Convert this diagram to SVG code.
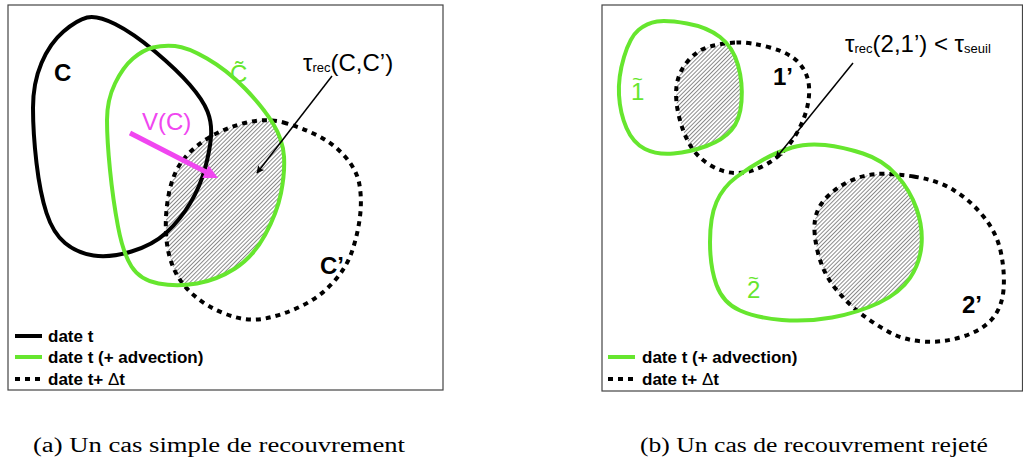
<svg xmlns="http://www.w3.org/2000/svg" width="1023" height="465" viewBox="0 0 1023 465">
<style>
.frame{fill:#fff;stroke:#444;stroke-width:1.2}
.blk{fill:none;stroke:#000;stroke-width:4}
.grn{fill:none;stroke:#66e62e;stroke-width:4}
.dsh{fill:none;stroke:#000;stroke-width:4;stroke-dasharray:5 5}
.hatch{fill:url(#hatch);stroke:none}
.lbl{font-family:"Liberation Sans",Arial,sans-serif;font-size:24px}
.b{font-weight:bold}
.g{fill:#66e62e}
.leg{font-family:"Liberation Sans",Arial,sans-serif;font-size:17px;font-weight:bold}
.cap{font-family:"Liberation Serif","Times New Roman",serif;font-size:20px}
</style>
<defs>
<pattern id="hatch" patternUnits="userSpaceOnUse" width="2.9" height="2.9" patternTransform="rotate(45)">
<rect width="2.9" height="2.9" fill="#fff"/>
<line x1="0.5" y1="0" x2="0.5" y2="2.9" stroke="#5a5a5a" stroke-width="0.7"/>
</pattern>
<path id="gC" d="M175,46 Q187,47 207,58.5 Q227,70 245,88.5 Q263,107 273,123.5 Q283,140 284,156.5 Q285,173 281,193 Q277,213 265,235 Q253,257 235,268.5 Q217,280 197,283.5 Q177,287 158.5,283.5 Q140,280 131.5,266.5 Q123,253 118,226.5 Q113,200 110,170 Q107,140 107,120 Q107,100 115,83.5 Q123,67 133,58.5 Q143,50 153,47.5 Q163,45 175,46 Z"/>
<path id="dC" d="M283.5,122.5 Q300,127 316.5,135 Q333,143 345,156.5 Q357,170 359.5,185 Q362,200 360,216.5 Q358,233 352.5,250 Q347,267 333.5,282 Q320,297 301.5,306 Q283,315 265,318.5 Q247,322 227,314.5 Q207,307 193.5,295 Q180,283 173.5,268 Q167,253 166,233 Q165,213 169,193 Q173,173 183,160 Q193,147 210,137 Q227,127 247,122.5 Q267,118 283.5,122.5 Z"/>
<path id="g1" d="M687,23.5 Q707,27 720,37 Q733,47 738,65 Q743,83 741.5,101.5 Q740,120 731.5,130 Q723,140 706.5,146 Q690,152 673.5,153.5 Q657,155 645,149 Q633,143 626.5,128 Q620,113 619,95 Q618,77 624,57 Q630,37 638.5,30 Q647,23 657,21.5 Q667,20 687,23.5 Z"/>
<path id="d1" d="M736.5,42.5 Q750,42 770,47.5 Q790,53 799,63 Q808,73 809,86.5 Q810,100 805,115 Q800,130 790,143.5 Q780,157 765,165 Q750,173 736.5,173 Q723,173 710,165 Q697,157 690,145 Q683,133 679,116.5 Q675,100 676.5,86.5 Q678,73 687.5,61.5 Q697,50 710,46.5 Q723,43 736.5,42.5 Z"/>
<path id="g2" d="M825,145 Q843,147 863,153.5 Q883,160 896.5,175 Q910,190 916.5,208.5 Q923,227 921.5,245 Q920,263 910,278 Q900,293 878.5,303 Q857,313 832,317.5 Q807,322 782,320 Q757,318 740,310.5 Q723,303 716.5,285 Q710,267 710,242 Q710,217 716.5,202 Q723,187 736.5,177 Q750,167 763.5,159.5 Q777,152 792,147.5 Q807,143 825,145 Z"/>
<path id="d2" d="M913.5,176.5 Q937,180 953.5,190 Q970,200 983.5,216.5 Q997,233 1001,253 Q1005,273 1003.5,290 Q1002,307 992.5,318.5 Q983,330 963,336.5 Q943,343 923,341.5 Q903,340 888,331.5 Q873,323 860,313 Q847,303 835,288 Q823,273 818,253 Q813,233 815,220 Q817,207 827,197 Q837,187 850,181 Q863,175 876.5,174 Q890,173 913.5,176.5 Z"/>
<clipPath id="clipGC"><use href="#gC"/></clipPath>
<clipPath id="clipG1"><use href="#g1"/></clipPath>
<clipPath id="clipG2"><use href="#g2"/></clipPath>
<marker id="blkArr" viewBox="0 0 10 10" refX="9" refY="5" markerWidth="7" markerHeight="5" orient="auto" markerUnits="strokeWidth">
<path d="M0,0 L10,5 L0,10 L2,5 Z" fill="#000"/>
</marker>
</defs>

<rect x="0" y="0" width="1023" height="465" fill="#fff"/>

<g id="panel-a">
<rect class="frame" x="8" y="5" width="435" height="385"/>
<g id="overlap-a"><use href="#dC" class="hatch" clip-path="url(#clipGC)"/></g>
<g id="node-C"><path class="blk" d="M115,24 Q133,33 155,51.5 Q177,70 190,85 Q203,100 207.5,111.5 Q212,123 211,136.5 Q210,150 205,168.5 Q200,187 190,203.5 Q180,220 166.5,232.5 Q153,245 131.5,251.5 Q110,258 93.5,255.5 Q77,253 65,243 Q53,233 46.5,213 Q40,193 36.5,163 Q33,133 33,108 Q33,83 41.5,63 Q50,43 63.5,31.5 Q77,20 87,17.5 Q97,15 115,24 Z"/>
<text class="lbl b" x="54" y="81">C</text></g>
<g id="node-Cprime"><use href="#dC" class="dsh"/>
<text class="lbl b" x="320" y="274">C’</text></g>
<g id="node-Ctilde"><use href="#gC" class="grn"/>
<text class="lbl g" x="230" y="82">C&#x303;</text></g>
<g id="connectors-a">
<line x1="130" y1="133" x2="206" y2="172" stroke="#f046f0" stroke-width="5"/>
<polygon points="218,178 208.7,165.5 202.3,177.9" fill="#f046f0"/>
<line x1="332" y1="76" x2="257" y2="173" stroke="#000" stroke-width="1.5" marker-end="url(#blkArr)"/>
</g>
<text class="lbl" fill="#f046f0" x="142" y="130">V(C)</text>
<text class="lbl" x="303" y="71">τ<tspan style="font-size:13px" dy="1">rec</tspan><tspan dy="-1">(C,C’)</tspan></text>
<g id="legend-a">
<line x1="15" y1="336" x2="42" y2="336" stroke="#000" stroke-width="4"/>
<text class="leg" x="48" y="342">date t</text>
<line x1="15" y1="357" x2="42" y2="357" stroke="#66e62e" stroke-width="4"/>
<text class="leg" x="48" y="363">date t (+ advection)</text>
<line x1="15" y1="379" x2="42" y2="379" class="dsh"/>
<text class="leg" x="48" y="385">date t+ <tspan font-weight="normal">Δ</tspan>t</text>
</g>
</g>

<g id="panel-b">
<rect class="frame" x="602" y="5" width="420.5" height="386"/>
<g id="overlap-b1"><use href="#d1" class="hatch" clip-path="url(#clipG1)"/></g>
<g id="overlap-b2"><use href="#d2" class="hatch" clip-path="url(#clipG2)"/></g>
<g id="node-1prime"><use href="#d1" class="dsh"/>
<text class="lbl b" x="773" y="85">1’</text></g>
<g id="node-2prime"><use href="#d2" class="dsh"/>
<text class="lbl b" x="962" y="313">2’</text></g>
<g id="node-1tilde"><use href="#g1" class="grn"/>
<text class="lbl g" x="631" y="100">1<tspan style="font-size:18px" dx="-12" dy="-15">~</tspan></text></g>
<g id="node-2tilde"><use href="#g2" class="grn"/>
<text class="lbl g" x="747" y="298">2<tspan style="font-size:18px" dx="-12" dy="-14">~</tspan></text></g>
<g id="connectors-b">
<line x1="853" y1="63" x2="776" y2="158" stroke="#000" stroke-width="1.5" marker-end="url(#blkArr)"/>
</g>
<text class="lbl" x="845" y="52">τ<tspan style="font-size:13px" dy="1">rec</tspan><tspan dy="-1">(2,1’) &lt; τ</tspan><tspan style="font-size:13px" dy="1">seuil</tspan></text>
<g id="legend-b">
<line x1="608" y1="357" x2="635" y2="357" stroke="#66e62e" stroke-width="4"/>
<text class="leg" x="642" y="363">date t (+ advection)</text>
<line x1="608" y1="379" x2="635" y2="379" class="dsh"/>
<text class="leg" x="642" y="385">date t+ <tspan font-weight="normal">Δ</tspan>t</text>
</g>
</g>

<text class="cap" x="33" y="452" textLength="372" lengthAdjust="spacingAndGlyphs">(a) Un cas simple de recouvrement</text>
<text class="cap" x="640" y="452" textLength="348" lengthAdjust="spacingAndGlyphs">(b) Un cas de recouvrement rejeté</text>
</svg>
